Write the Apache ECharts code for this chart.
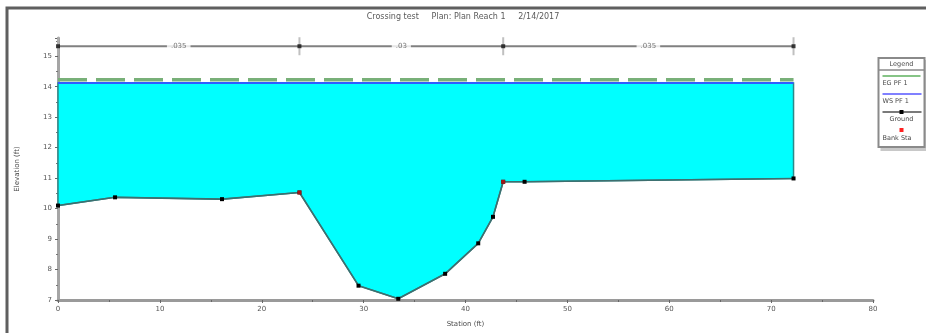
<!DOCTYPE html>
<html>
<head>
<meta charset="utf-8">
<script src="https://cdn.jsdelivr.net/npm/echarts@6/dist/echarts.min.js"></script>
<style>
  html, body { margin: 0; padding: 0; background: #fff; }
  #chart { width: 926px; height: 333px; }
</style>
</head>
<body>
<div id="chart"></div>
<script>
// Cross-section geometry: station (ft) and ground elevation (ft)
const stations = [0, 5.6, 16.1, 23.7, 29.5, 33.4, 38.0, 41.25, 42.7, 43.7, 45.8, 72.2];
const groundElev = [10.1, 10.37, 10.31, 10.53, 7.47, 7.04, 7.86, 8.86, 9.73, 10.88, 10.88, 10.99];

// Bank stations (left, right)
const bankStations = [23.7, 43.7];
const bankElev = [10.53, 10.88];

// Profile results
const wsElev = 14.12;   // water surface PF 1
const egElev = 14.23;   // energy grade PF 1

// Manning's n values across the section
const nBreaks = [0, 23.7, 43.7, 72.2];
const nLabels = ['.035', '.03', '.035'];
const nBarElev = 15.33;

// Axis ticks
const xTicks = [0, 10, 20, 30, 40, 50, 60, 70, 80];
const yTicks = [7, 8, 9, 10, 11, 12, 13, 14, 15];

const titleText = 'Crossing test     Plan: Plan Reach 1     2/14/2017';

const chart = echarts.init(document.getElementById('chart'), null, { renderer: 'canvas' });

const leftSta = stations[0];
const rightSta = stations[stations.length - 1];
const groundPts = stations.map((s, i) => [s, groundElev[i]]);
const waterPoly = [[leftSta, wsElev]].concat(groundPts, [[rightSta, wsElev]]);

const nMid = nLabels.map((t, i) => [(nBreaks[i] + nBreaks[i + 1]) / 2, nBarElev, t]);

const txt = { fontFamily: 'DejaVu Sans', fontSize: 7, fill: '#4a4a4a' };

const option = {
  animation: false,
  backgroundColor: '#fff',
  grid: { left: 58, right: 53, top: 38, bottom: 31 },
  xAxis: {
    type: 'value',
    min: xTicks[0], max: xTicks[xTicks.length - 1], interval: 10,
    axisLine: { show: true, lineStyle: { color: '#9a9a9a', width: 3 } },
    axisTick: { show: true, inside: false, length: 3, lineStyle: { color: '#666', width: 1 } },
    minorTick: { show: true, splitNumber: 2, length: 2, lineStyle: { color: '#666' } },
    splitLine: { show: false },
    axisLabel: { color: '#555', fontSize: 7, fontFamily: 'DejaVu Sans', margin: 6 },
    name: 'Station (ft)', nameLocation: 'middle', nameGap: 21,
    nameTextStyle: { color: '#4a4a4a', fontSize: 7, fontFamily: 'DejaVu Sans' }
  },
  yAxis: {
    type: 'value',
    min: yTicks[0], max: 15.6, interval: 1,
    axisLine: { show: true, lineStyle: { color: '#a5a5a5', width: 3 } },
    axisTick: { show: true, length: 3, lineStyle: { color: '#666' } },
    minorTick: { show: true, splitNumber: 2, length: 2, lineStyle: { color: '#777' } },
    splitLine: { show: false },
    axisLabel: {
      color: '#555', fontSize: 7, fontFamily: 'DejaVu Sans', margin: 6,
      showMaxLabel: false,
      formatter: v => (yTicks.indexOf(v) >= 0 ? String(v) : '')
    },
    name: 'Elevation (ft)', nameLocation: 'middle', nameGap: 37, nameRotate: 90,
    nameTextStyle: { color: '#4a4a4a', fontSize: 7, fontFamily: 'DejaVu Sans' }
  },
  series: [
    {
      // water area between ground and water surface
      type: 'custom',
      name: 'water',
      z: 1,
      data: [0],
      renderItem: function (params, api) {
        const pts = waterPoly.map(p => api.coord(p));
        return {
          type: 'polygon',
          shape: { points: pts },
          style: { fill: '#00ffff', stroke: '#2b8a8a', lineWidth: 1.5 }
        };
      }
    },
    {
      name: 'EG PF 1',
      type: 'line',
      z: 3,
      data: [[leftSta, egElev], [rightSta, egElev]],
      symbol: 'none',
      lineStyle: { color: '#78b078', width: 3.5, type: [29, 9] }
    },
    {
      name: 'WS PF 1',
      type: 'line',
      z: 4,
      data: [[leftSta, wsElev], [rightSta, wsElev]],
      symbol: 'none',
      lineStyle: { color: '#2f5cff', width: 2 }
    },
    {
      name: 'Ground',
      type: 'line',
      z: 5,
      data: groundPts,
      symbol: 'rect',
      symbolSize: 4,
      itemStyle: { color: '#000' },
      lineStyle: { color: '#3d6f6f', width: 1.6 }
    },
    {
      name: 'Bank Sta',
      type: 'scatter',
      z: 6,
      data: bankStations.map((s, i) => [s, bankElev[i]]),
      symbol: 'rect',
      symbolSize: 4,
      itemStyle: { color: '#c81e1e' }
    },
    {
      // Manning's n bar
      type: 'line',
      z: 3,
      data: [[nBreaks[0], nBarElev], [nBreaks[nBreaks.length - 1], nBarElev]],
      symbol: 'none',
      lineStyle: { color: '#808080', width: 2 }
    },
    {
      type: 'scatter',
      z: 4,
      data: nBreaks.map(s => [s, nBarElev]),
      symbol: 'rect',
      symbolSize: [2, 18],
      itemStyle: { color: '#b0b0b0' }
    },
    {
      type: 'scatter',
      z: 5,
      data: nBreaks.map(s => [s, nBarElev]),
      symbol: 'rect',
      symbolSize: [4, 4],
      itemStyle: { color: '#111' }
    },
    {
      type: 'scatter',
      z: 6,
      data: nMid,
      symbolSize: 0,
      label: {
        show: true, position: 'inside',
        formatter: p => p.data[2],
        color: '#555', fontSize: 7, fontFamily: 'DejaVu Sans',
        backgroundColor: '#fff', padding: [1, 4]
      }
    }
  ],
  graphic: [
    // outer frame
    { type: 'rect', shape: { x: 7, y: 8, width: 940, height: 340 },
      style: { fill: 'none', stroke: '#5f5f5f', lineWidth: 3 }, silent: true },
    { type: 'text', left: 'center', top: 13, x: 0,
      style: Object.assign({}, txt, { text: titleText, fill: '#5a5a5a', fontSize: 8 }) },
    // legend box
    {
      type: 'group', left: 876, top: 57,
      children: [
        { type: 'rect', shape: { x: 2, y: 2, width: 47, height: 91 }, style: { fill: '#c8c8c8' } },
        { type: 'rect', shape: { x: 0, y: 0, width: 46, height: 89 }, style: { fill: '#fff', stroke: '#8a8a8a', lineWidth: 2 } },
        { type: 'text', x: 23, y: 3, style: Object.assign({}, txt, { text: 'Legend', align: 'center', fontSize: 6.5 }) },
        { type: 'line', shape: { x1: 0, y1: 12, x2: 46, y2: 12 }, style: { stroke: '#8a8a8a', lineWidth: 1.5 } },
        { type: 'line', shape: { x1: 4, y1: 18, x2: 42, y2: 18 }, style: { stroke: '#86c486', lineWidth: 2 } },
        { type: 'text', x: 4, y: 22, style: Object.assign({}, txt, { text: 'EG PF 1', fontSize: 6.5 }) },
        { type: 'line', shape: { x1: 4, y1: 36, x2: 43, y2: 36 }, style: { stroke: '#8080ff', lineWidth: 2 } },
        { type: 'text', x: 4, y: 40, style: Object.assign({}, txt, { text: 'WS PF 1', fontSize: 6.5 }) },
        { type: 'line', shape: { x1: 4, y1: 54, x2: 43, y2: 54 }, style: { stroke: '#7a7a7a', lineWidth: 2 } },
        { type: 'rect', shape: { x: 21, y: 52, width: 4, height: 4 }, style: { fill: '#000' } },
        { type: 'text', x: 23, y: 58, style: Object.assign({}, txt, { text: 'Ground', align: 'center', fontSize: 6.5 }) },
        { type: 'rect', shape: { x: 21, y: 70, width: 4, height: 4 }, style: { fill: '#ff2020' } },
        { type: 'text', x: 4, y: 77, style: Object.assign({}, txt, { text: 'Bank Sta', fontSize: 6.5 }) }
      ]
    }
  ]
};

chart.setOption(option);
</script>
</body>
</html>
